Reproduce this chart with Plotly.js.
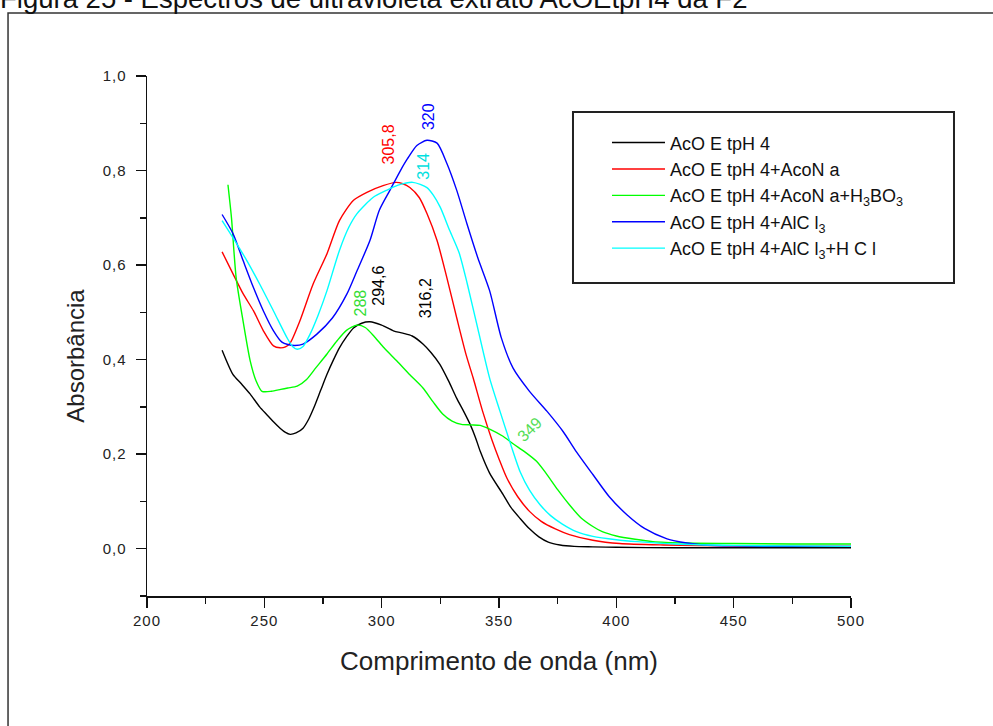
<!DOCTYPE html>
<html>
<head>
<meta charset="utf-8">
<script src="https://cdn.plot.ly/plotly-3.0.1.min.js"></script>
<style>
html,body{margin:0;padding:0;background:#fff;}
#chart{width:993px;height:726px;}
#chart .xtick text, #chart .ytick text{letter-spacing:1px;}
#chart .g-ytitle{transform:translateY(20px);}
</style>
</head>
<body>
<div id="chart"></div>
<script>
// Series names (as displayed)
const seriesNames = [
  "AcO E tpH 4",
  "AcO E tpH 4+AcoN a",
  "AcO E tpH 4+AcoN a+H<sub>3</sub>BO<sub>3</sub>",
  "AcO E tpH 4+AlC l<sub>3</sub>",
  "AcO E tpH 4+AlC l<sub>3</sub>+H C l"
];
const seriesColors = ["#000000", "#ff0000", "#00ff00", "#0000ff", "#00ffff"];

// AcOEtpH4
const xBlack = [232,236.6,240,244,248,251,254,256.7,259,261,263.5,266.5,269,271,274,276.7,279.5,282,285,288,291.5,295,300,305,309,313,317.6,321,324.8,328.5,332,335,337.7,340,342,346,351.7,355,359,363,367,371,376,382,390,400,425,450,475,500];
const yBlack = [0.42,0.369,0.35,0.327,0.30,0.284,0.268,0.255,0.246,0.242,0.245,0.255,0.275,0.297,0.335,0.369,0.40,0.425,0.448,0.467,0.477,0.48,0.473,0.461,0.456,0.45,0.433,0.415,0.39,0.355,0.318,0.29,0.263,0.235,0.206,0.16,0.115,0.088,0.064,0.042,0.025,0.014,0.008,0.005,0.004,0.003,0.002,0.002,0.002,0.002];

// + AcoNa
const xRed = [232,236.6,241,245.4,249.6,253.9,256.7,259,261,265,270.8,276.7,282,288,293.7,300.6,306,309,312,316,319.3,323.6,327.8,332,336,339,343,347,350,353.4,358,363,368,374,380,390,401.5,420,450,475,500];
const yRed = [0.628,0.582,0.539,0.503,0.461,0.429,0.425,0.427,0.435,0.48,0.56,0.624,0.694,0.737,0.754,0.768,0.775,0.772,0.764,0.743,0.709,0.652,0.573,0.488,0.41,0.361,0.291,0.23,0.19,0.149,0.11,0.079,0.058,0.042,0.03,0.018,0.011,0.008,0.006,0.005,0.005];

// + AcoNa + H3BO3
const xGreen = [234.5,236,238,241,244,246.5,249,253,257,260,264,268,272,276.7,281,285,289.5,293,297,301,306.5,312,317.6,322,326,330,334,338,342,346,351.7,356,361,366,370,375,380,385,390,394,400,408,415.6,430,450,475,500];
const yGreen = [0.77,0.70,0.573,0.48,0.397,0.355,0.333,0.333,0.337,0.34,0.344,0.358,0.383,0.412,0.44,0.462,0.473,0.468,0.448,0.425,0.397,0.368,0.34,0.31,0.285,0.27,0.263,0.262,0.261,0.253,0.238,0.222,0.205,0.185,0.16,0.125,0.093,0.065,0.047,0.036,0.027,0.02,0.015,0.012,0.011,0.01,0.01];

// + AlCl3
const xBlue = [232,236.6,241,245.4,249.6,253.9,257.5,260,263,266.5,272.4,279,285.2,289.5,295,299,303.5,308,311,315,319.3,323.6,327.8,332,336.3,341,346,351,356,363,370.4,377.3,383,390,397,404.5,412,421.6,430,437,450,475,500];
const yBlue = [0.707,0.667,0.609,0.552,0.503,0.461,0.437,0.432,0.430,0.433,0.454,0.488,0.539,0.588,0.652,0.716,0.758,0.80,0.825,0.853,0.864,0.858,0.815,0.758,0.688,0.615,0.546,0.446,0.382,0.333,0.291,0.248,0.205,0.157,0.11,0.072,0.043,0.021,0.012,0.008,0.006,0.005,0.005];

// + AlCl3 + HCl
const xCyan = [232,236.6,242.6,248,253.9,259.7,262,264,266.5,269.5,273,276.7,282,286,289.5,296.3,302,307,313.3,319.3,322,325,329,333,336.5,341,346,350.4,354.7,359,363,367.5,372,377,383,390,400,409,425,450,475,500];
const yCyan = [0.694,0.658,0.609,0.56,0.503,0.446,0.428,0.422,0.428,0.454,0.495,0.546,0.631,0.68,0.709,0.743,0.758,0.769,0.775,0.764,0.748,0.722,0.673,0.626,0.56,0.465,0.361,0.291,0.225,0.163,0.124,0.093,0.07,0.052,0.036,0.026,0.019,0.015,0.01,0.007,0.006,0.005];

// Peak labels
const peakText = ["305,8", "320", "314", "294,6", "288", "316,2", "349"];
const peakX = [303.1, 319.7, 318, 298.8, 291, 318.5, 363];
const peakY = [0.855, 0.915, 0.81, 0.556, 0.52, 0.53, 0.253];
const peakColor = ["#ff0000", "#0000ff", "#00e0e0", "#000000", "#33dd33", "#000000", "#55dd55"];
const peakAngle = [-90, -90, -90, -90, -90, -90, -45];

const xTickVals = [200, 250, 300, 350, 400, 450, 500];
const yTickVals = [0.0, 0.2, 0.4, 0.6, 0.8, 1.0];

const xs = [xBlack, xRed, xGreen, xBlue, xCyan];
const ys = [yBlack, yRed, yGreen, yBlue, yCyan];

const traces = xs.map((x, i) => ({
  x: x, y: ys[i], type: "scatter", mode: "lines",
  name: seriesNames[i], legendgroup: "g" + i,
  line: {color: seriesColors[i], width: 1.4, shape: "spline", smoothing: 0.7},
  hoverinfo: "skip"
}));

const font = "Liberation Sans, Arial, sans-serif";

const annotations = peakText.map((t, i) => ({
  x: peakX[i], y: peakY[i], xref: "x", yref: "y", text: t, showarrow: false,
  textangle: peakAngle[i], font: {family: font, size: 16, color: peakColor[i]},
  xanchor: "center", yanchor: "middle"
}));

annotations.push({
  xref: "paper", yref: "paper", x: -0.2116, y: 1.15, xanchor: "left", yanchor: "middle",
  text: "Figura 25 - Espectros de ultravioleta extrato AcOEtpH4 da F2", showarrow: false,
  font: {family: font, size: 27.5, color: "#111"}
});

const layout = {
  width: 993, height: 726,
  margin: {l: 147, r: 142, t: 76, b: 130, pad: 0},
  paper_bgcolor: "#ffffff", plot_bgcolor: "#ffffff",
  separators: ",.",
  showlegend: true,
  legend: {
    x: 0.6534, y: 0.907, xanchor: "left", yanchor: "top",
    bgcolor: "rgba(0,0,0,0)", borderwidth: 0,
    font: {family: font, size: 18, color: "#111"},
    itemwidth: 53, tracegroupgap: 0
  },
  xaxis: {
    range: [200, 500], tickmode: "array", tickvals: xTickVals,
    showgrid: false, zeroline: false, showline: true, linecolor: "#111", linewidth: 1.5,
    ticks: "outside", ticklen: 10, tickwidth: 1.5, tickcolor: "#111",
    minor: {ticks: "outside", dtick: 25, tick0: 200, ticklen: 6, tickwidth: 1.5, tickcolor: "#111", showgrid: false},
    tickfont: {family: font, size: 15, color: "#222"},
    title: {text: "Comprimento de onda (nm)", font: {family: font, size: 26, color: "#222"}, standoff: 24}
  },
  yaxis: {
    range: [-0.1, 1.0], tickmode: "array", tickvals: yTickVals, tickformat: ".1f",
    showgrid: false, zeroline: false, showline: true, linecolor: "#111", linewidth: 1.5,
    ticks: "outside", ticklen: 10, tickwidth: 1.5, tickcolor: "#111",
    ticklabelstandoff: 6,
    minor: {ticks: "outside", dtick: 0.1, tick0: 0, ticklen: 6, tickwidth: 1.5, tickcolor: "#111", showgrid: false},
    tickfont: {family: font, size: 15, color: "#222"},
    title: {text: "Absorbância", font: {family: font, size: 24, color: "#222"}, standoff: 14}
  },
  shapes: [
    {type: "rect", xref: "paper", yref: "paper", x0: -0.1974, x1: 1.25, y0: -0.3, y1: 1.1212,
     line: {color: "#333", width: 1.5}, fillcolor: "rgba(0,0,0,0)", layer: "below"},
    {type: "rect", xref: "paper", yref: "paper", x0: 0.6051, x1: 1.1463, y0: 0.6019, y1: 0.9308,
     line: {color: "#222", width: 2}, fillcolor: "rgba(0,0,0,0)", layer: "above"}
  ],
  annotations: annotations
};

Plotly.newPlot("chart", traces, layout, {displayModeBar: false, staticPlot: true});
</script>
</body>
</html>
